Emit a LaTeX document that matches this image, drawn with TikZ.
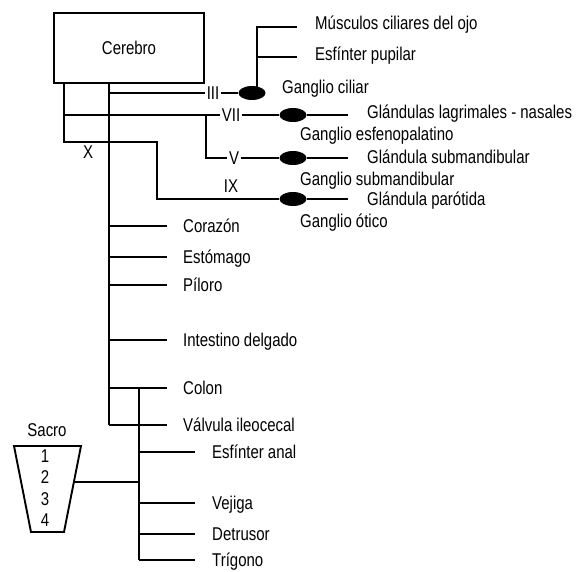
\documentclass[tikz,border=0pt]{standalone}
\usepackage{fontspec}
\setmainfont{Liberation Sans}[FakeStretch=0.81]
\usetikzlibrary{shapes.geometric}
\begin{document}
\begin{tikzpicture}[x=1pt,y=-1pt,
  wire/.style={line width=1.9pt},
  txt/.style={inner sep=0pt, font=\fontsize{18.5}{22}\selectfont},
  lbl/.style={txt, anchor=base west, yshift=-6.5pt},
  nerve/.style={txt, fill=white, inner xsep=2pt, inner ysep=1pt},
  ganglion/.style={ellipse, fill=black, minimum width=27pt, minimum height=14pt, inner sep=0pt}]
\useasboundingbox (0,0) rectangle (583,572);

% brain
\node[draw, line width=1.9pt, minimum width=150pt, minimum height=70pt, txt] (cerebro) at (129,48) {Cerebro};

% ganglia
\node[ganglion] (g3) at (252,93) {};
\node[ganglion] (g7) at (293,115) {};
\node[ganglion] (g5) at (293,158) {};
\node[ganglion] (g9) at (293,199) {};

% junctions and free ends
\coordinate (stemTop) at (64,83);
\coordinate (j7) at (64,115);
\coordinate (stemBot) at (64,142);
\coordinate (x9) at (157,142);
\coordinate (trunkTop) at (109,83);
\coordinate (j3) at (109,93);
\coordinate (trunkBot) at (109,425);
\coordinate (b5) at (206,115);
\coordinate (c3) at (257,90);
\coordinate (c3a) at (257,27);
\coordinate (c3b) at (257,57);
\coordinate (e3a) at (297,27);
\coordinate (e3b) at (297,57);
\coordinate (e7) at (348,115);
\coordinate (e5) at (348,158);
\coordinate (e9) at (348,199);

% cranial outflow
\draw[wire] (stemTop) -- (stemBot) -- (x9) |- (g9);
\draw[wire] (g9) -- (e9);
\draw[wire] (trunkTop) -- (trunkBot);
\draw[wire] (j3) -- (g3);
\draw[wire] (c3) -- (c3a) -- (e3a);
\draw[wire] (c3b) -- (e3b);
\draw[wire] (j7) -- (g7);
\draw[wire] (g7) -- (e7);
\draw[wire] (b5) |- (g5);
\draw[wire] (g5) -- (e5);

\node[nerve] (n3) at (213,93) {III};
\node[nerve] (n7) at (231,115) {VII};
\node[nerve] (n5) at (234,158) {V};
\node[txt] (n9) at (231,186) {IX};
\node[txt] (n10) at (88,152) {X};

\node[lbl] (musc) at (315,23) {Músculos ciliares del ojo};
\node[lbl] (esfp) at (315,54) {Esfínter pupilar};
\node[lbl] (gcil) at (282,87) {Ganglio ciliar};
\node[lbl] (glag) at (367,112) {Glándulas lagrimales - nasales};
\node[lbl] (gesf) at (300,134) {Ganglio esfenopalatino};
\node[lbl] (gsub) at (367,157) {Glándula submandibular};
\node[lbl] (ggsub) at (300,179) {Ganglio submandibular};
\node[lbl] (gpar) at (367,199) {Glándula parótida};
\node[lbl] (gotic) at (300,221) {Ganglio ótico};

% vagal branches
\foreach \y/\name/\t in {226/cor/Corazón, 257/est/Estómago, 285/pil/Píloro,
    340/int/Intestino delgado, 388/col/Colon, 425/val/Válvula ileocecal} {
  \coordinate (a\name) at (109,\y);
  \coordinate (b\name) at (167,\y);
  \draw[wire] (a\name) -- (b\name);
  \node[lbl] (\name) at (183,\y) {\t};
}

% sacral outflow
\coordinate (sTop) at (139,388);
\coordinate (sBot) at (139,560);
\draw[wire] (sTop) -- (sBot);
\foreach \y/\name/\t in {452/anal/Esfínter anal, 503/vej/Vejiga, 534/det/Detrusor, 560/tri/Trígono} {
  \coordinate (a\name) at (139,\y);
  \coordinate (b\name) at (195,\y);
  \draw[wire] (a\name) -- (b\name);
  \node[lbl] (\name) at (212,\y) {\t};
}

\draw[line width=1.9pt] (14,446) coordinate (sacTL) -- (81,446) coordinate (sacTR)
  -- (64,532) coordinate (sacBR) -- (31,532) coordinate (sacBL) -- cycle;
\coordinate (sacR) at (73.9,482);
\coordinate (sacJ) at (139,482);
\draw[wire] (sacR) -- (sacJ);
\node[txt] (sacro) at (47,430) {Sacro};
\foreach \n/\y in {1/456, 2/477, 3/499, 4/520}
  \node[txt] (s\n) at (45,\y) {\n};
\end{tikzpicture}
\end{document}
